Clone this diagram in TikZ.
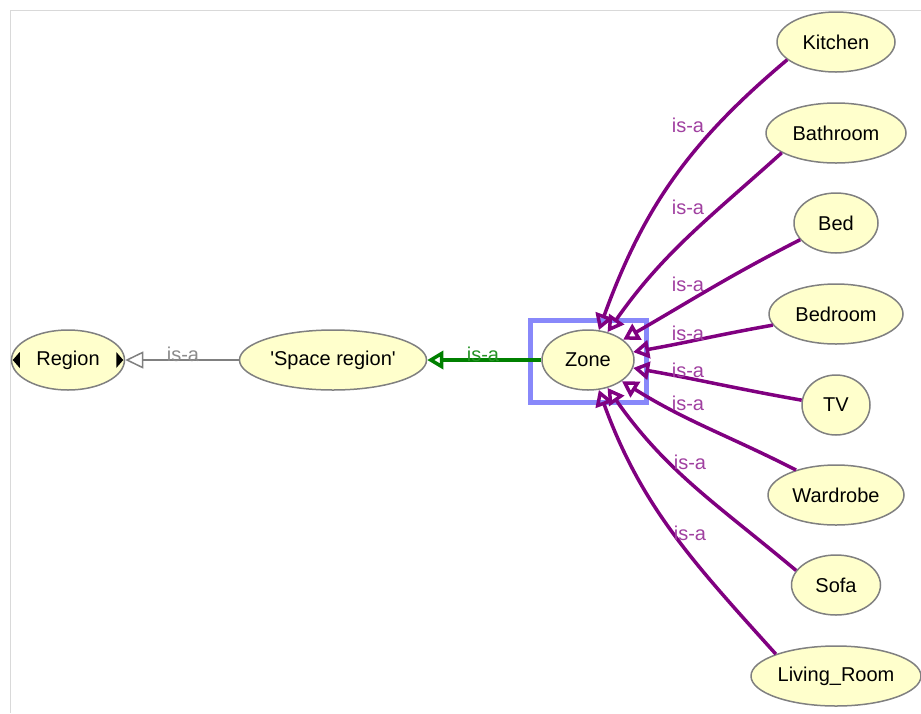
\documentclass[tikz,border=0pt]{standalone}
\usepackage{fontspec}
\setmainfont{Liberation Sans}
\usetikzlibrary{shapes.geometric, arrows.meta}

\definecolor{classfill}{RGB}{255,255,204}
\definecolor{classline}{RGB}{128,128,128}
\definecolor{isapurple}{RGB}{128,0,128}
\definecolor{isagreen}{RGB}{0,128,0}
\definecolor{selblue}{RGB}{136,136,250}

\tikzset{
  cls/.style={ellipse, draw=classline, fill=classfill, line width=1.5pt,
    inner sep=0pt, minimum height=60pt, font=\fontsize{20}{24}\selectfont},
  isa/.style={draw=isapurple, line width=3.5pt,
    -{Triangle[open, length=16pt, width=18pt]}},
  isalbl/.style={font=\fontsize{20}{24}\selectfont, text=isapurple!75},
}

\begin{document}
\begin{tikzpicture}[x=1pt, y=-1pt]
    \useasboundingbox (0,0) rectangle (921,713);
    \draw[black!15, line width=1pt] (10,713) -- (10,10) -- (921,10);

    % selection box round Zone
    \draw[selblue, line width=5pt] (530,320) rectangle (646,402);

    \node[cls, minimum width=113pt] (region) at (68,360) {Region};
    \fill ([xshift=2pt]region.west) -- ++(7,-8) -- ++(0,16) -- cycle;
    \fill ([xshift=-2pt]region.east) -- ++(-7,-8) -- ++(0,16) -- cycle;
    \node[cls, minimum width=187pt] (space) at (333,360) {\textquotesingle Space region\textquotesingle};
    \node[cls, minimum width=92pt] (zone) at (588,360) {Zone};

    \foreach \id/\txt/\yy/\ww in {kitchen/Kitchen/42/118, bathroom/Bathroom/133/140,
        bed/Bed/223/84, bedroom/Bedroom/314/134, tv/TV/405/68,
        wardrobe/Wardrobe/495/136, sofa/Sofa/585/89, living/Living\_Room/676/170}
        \node[cls, minimum width=\ww pt] (\id) at (836,\yy) {\txt};

    \draw[classline, line width=1.5pt, -{Triangle[open, length=18pt, width=17pt]}] (space) -- (region);
    \node[font=\fontsize{20}{24}\selectfont, text=black!45] (lbl-space) at (183,354) {is-a};
    \draw[isagreen, line width=3.5pt, -{Triangle[open, length=16pt, width=18pt]}] (zone) -- (space);
    \node[font=\fontsize{20}{24}\selectfont, text=isagreen!85] (lbl-zone) at (483,354) {is-a};

    % subclasses of Zone
    \foreach \id/\a/\o/\i/\lx/\ly in {kitchen/200/220/70/688/125, bathroom/200/222/55/688/207,
        bed/205/207/30/688/284, bedroom/190/190/10/688/333, tv/172/170/-10/688/370,
        wardrobe/148/153/-32/688/403, sofa/160/140/-55/690/462, living/160/132/-70/690/533}{
        \draw[isa] (\id.\a) to[out=\o, in=\i] (zone);
        \node[isalbl] (lbl-\id) at (\lx,\ly) {is-a};
    }
\end{tikzpicture}
\end{document}
